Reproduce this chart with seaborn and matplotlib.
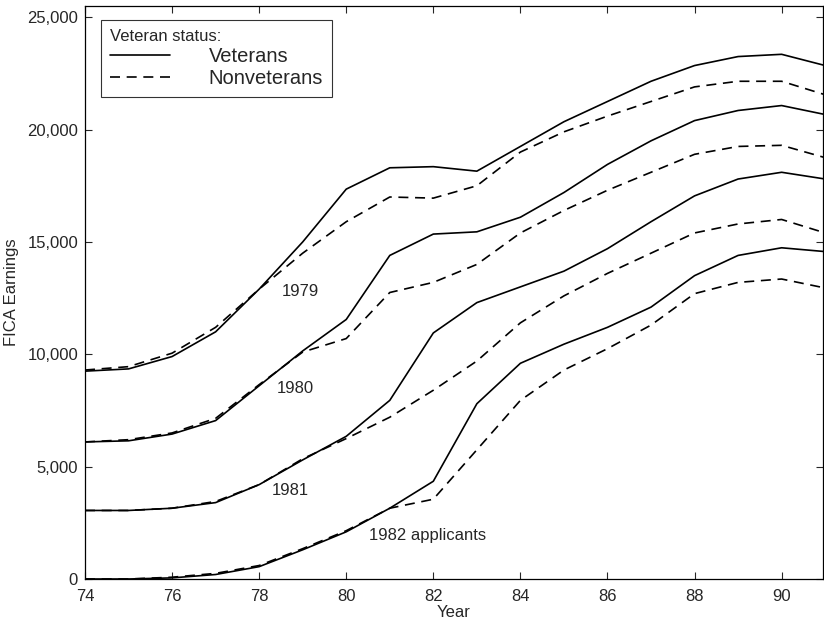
import matplotlib
matplotlib.use("Agg")
import matplotlib.pyplot as plt
import seaborn as sns
import pandas as pd
from matplotlib.lines import Line2D

years = list(range(74, 92))

vet_1979 = [9250, 9350, 9900, 11000, 12900, 15000, 17350, 18300, 18350, 18150, 19250, 20350, 21250, 22150, 22850, 23250, 23350, 22850]
non_1979 = [9300, 9450, 10050, 11200, 12900, 14500, 15900, 17000, 16950, 17500, 19000, 19900, 20600, 21250, 21900, 22150, 22150, 21550]
vet_1980 = [6100, 6150, 6450, 7050, 8600, 10150, 11550, 14400, 15350, 15450, 16100, 17200, 18450, 19500, 20400, 20850, 21070, 20670]
non_1980 = [6100, 6200, 6500, 7150, 8650, 10100, 10700, 12750, 13200, 14000, 15400, 16400, 17300, 18100, 18900, 19250, 19300, 18750]
vet_1981 = [3050, 3050, 3150, 3400, 4200, 5300, 6350, 7950, 10950, 12300, 13000, 13700, 14700, 15900, 17050, 17800, 18100, 17800]
non_1981 = [3050, 3050, 3150, 3450, 4200, 5350, 6250, 7200, 8400, 9700, 11400, 12600, 13600, 14500, 15400, 15800, 16000, 15400]
vet_1982 = [0, 0, 50, 200, 550, 1300, 2100, 3150, 4350, 7800, 9600, 10450, 11200, 12100, 13500, 14400, 14740, 14570]
non_1982 = [0, 0, 80, 250, 600, 1350, 2150, 3150, 3550, 5750, 7950, 9300, 10250, 11300, 12700, 13200, 13350, 12950]

cohort_labels = ["1979", "1980", "1981", "1982 applicants"]
label_pos_x = [78.95, 78.82, 78.72, 81.87]
label_pos_y = [12800, 8460, 3920, 1920]

series = {
    ("1979", "Veterans"): vet_1979, ("1979", "Nonveterans"): non_1979,
    ("1980", "Veterans"): vet_1980, ("1980", "Nonveterans"): non_1980,
    ("1981", "Veterans"): vet_1981, ("1981", "Nonveterans"): non_1981,
    ("1982", "Veterans"): vet_1982, ("1982", "Nonveterans"): non_1982,
}
rows = []
for (cohort, status), vals in series.items():
    for yr, v in zip(years, vals):
        rows.append({"Year": yr, "Earnings": v, "cohort": cohort, "status": status,
                     "grp": cohort + status})
df = pd.DataFrame(rows)

sns.set_style("ticks")
plt.rcParams["font.family"] = ["Liberation Sans", "DejaVu Sans"]

fig = plt.figure(figsize=(8.24, 6.24), dpi=100)
ax = fig.add_axes([85/824, 1 - 579/624, (823 - 85)/824, (579 - 6)/624])

sns.lineplot(data=df, x="Year", y="Earnings", units="grp", style="status",
             style_order=["Veterans", "Nonveterans"],
             dashes={"Veterans": "", "Nonveterans": (6, 4)},
             color="black", linewidth=1.2, estimator=None, legend=False, ax=ax)

for lab, lx, ly in zip(cohort_labels, label_pos_x, label_pos_y):
    ax.text(lx, ly, lab, ha="center", va="center", fontsize=12)

ax.set_xlim(74, 90.95)
ax.set_ylim(0, 25500)
ax.set_xticks(range(74, 91, 2))
ax.set_yticks(range(0, 25001, 5000))
ax.set_yticklabels([f"{v:,}" for v in range(0, 25001, 5000)])
ax.tick_params(direction="in", length=5, top=True, right=True, labelsize=12, width=0.8)
ax.tick_params(axis="x", pad=7)
ax.tick_params(axis="y", pad=5)
for s in ax.spines.values():
    s.set_linewidth(0.9)
    s.set_color("black")
ax.set_xlabel("Year", fontsize=12, labelpad=1)
ax.set_ylabel("FICA Earnings", fontsize=12, labelpad=6)

handles = [Line2D([], [], color="black", lw=1.2),
           Line2D([], [], color="black", lw=1.2, dashes=(6, 4))]
leg = ax.legend(handles, ["Veterans", "Nonveterans"], title="Veteran status:",
                loc="upper left", bbox_to_anchor=(0.0217, 0.9756), borderaxespad=0,
                fontsize=14.5, title_fontsize=12, handlelength=3.0, handletextpad=1.9,
                frameon=True, fancybox=False, borderpad=0.45, labelspacing=0.15)
leg._legend_box.align = "left"
leg.get_frame().set_edgecolor("black")
leg.get_frame().set_linewidth(0.8)

fig.savefig("out.png", dpi=100)
